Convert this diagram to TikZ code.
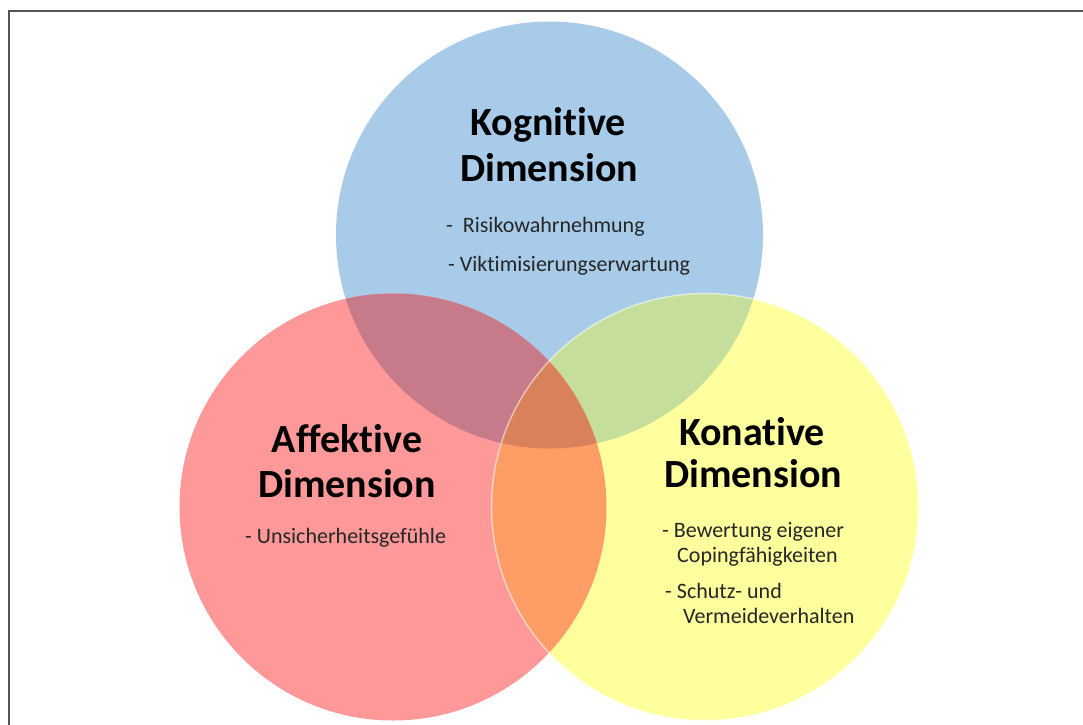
\documentclass[tikz,border=0pt]{standalone}
\usepackage{fontspec}
\setmainfont[RawFeature=-liga]{Carlito}
\definecolor{cBlue}{HTML}{A7CBE8}
\definecolor{cRed}{HTML}{FF9999}
\definecolor{cYel}{HTML}{FFFF9E}
\definecolor{cBR}{HTML}{C77A8A}
\definecolor{cBY}{HTML}{C5DE9B}
\definecolor{cRY}{HTML}{FF9D66}
\definecolor{cBRY}{HTML}{D8815A}
\definecolor{cFrame}{HTML}{555555}
\begin{document}
\begin{tikzpicture}[x=1pt,y=-1pt,
  title/.style={font=\bfseries\fontsize{40}{46}\selectfont, anchor=base, inner sep=0pt},
  item/.style={font=\fontsize{22}{26}\selectfont, anchor=base west, inner sep=0pt, text=black!85}]
\useasboundingbox (0,0) rectangle (1083,724);
\begin{scope}
\clip (0,0) rectangle (1083,724);
\draw[cFrame, line width=2pt] (9,740) -- (9,11) -- (1100,11);
\end{scope}
\coordinate (cb) at (549.5,235);
\coordinate (cr) at (393,507);
\coordinate (cy) at (705,507);
\def\R{213.5pt}
\fill[cBlue] (cb) circle[radius=\R];
\fill[cRed] (cr) circle[radius=\R];
\fill[cYel] (cy) circle[radius=\R];
\begin{scope}
\clip (cb) circle[radius=\R];
\fill[cBR] (cr) circle[radius=\R];
\fill[cBY] (cy) circle[radius=\R];
\end{scope}
\begin{scope}
\clip (cr) circle[radius=\R];
\fill[cRY] (cy) circle[radius=\R];
\clip (cb) circle[radius=\R];
\fill[cBRY] (cy) circle[radius=\R];
\end{scope}
\draw[white, opacity=.5, line width=1.5pt] (cy) circle[radius=\R];
% Kognitive
\node[title] (k1) at (548,135) {Kognitive};
\node[title] (k2) at (549,181) {Dimension};
\node[item] (k3) at (446,232) {-\ \ Risikowahrnehmung};
\node[item] (k4) at (448,271) {- Viktimisierungserwartung};
% Affektive
\node[title] (a1) at (347,452) {Affektive};
\node[title] (a2) at (347,497) {Dimension};
\node[item] (a3) at (245,543) {- Unsicherheitsgefühle};
% Konative
\node[title] (n1) at (752,445) {Konative};
\node[title] (n2) at (753,487) {Dimension};
\node[item] (n3) at (662,537) {- Bewertung eigener};
\node[item] (n4) at (677,562) {Copingfähigkeiten};
\node[item] (n5) at (665,598) {- Schutz- und};
\node[item] (n6) at (683,623) {Vermeideverhalten};
\end{tikzpicture}
\end{document}
